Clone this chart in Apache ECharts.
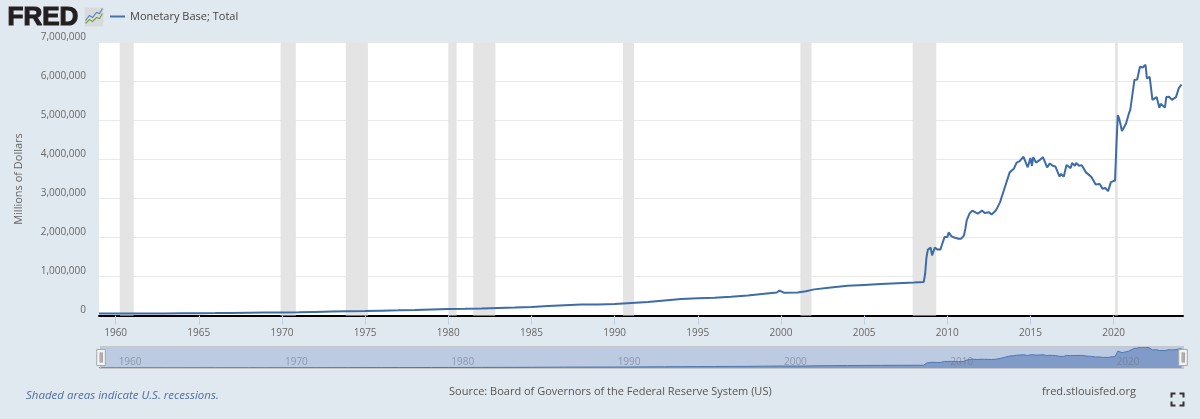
<!DOCTYPE html>
<html><head><meta charset="utf-8">
<style>html,body{margin:0;padding:0;background:#e1e9f0}#c{width:1200px;height:419px}</style>
<script src="https://cdn.jsdelivr.net/npm/echarts@6/dist/echarts.min.js"></script>
</head><body><div id="c"></div>
<script>
var seriesName = 'Monetary Base; Total';
var dates = ['1959-01','1960-01','1961-01','1962-01','1963-01','1964-01','1965-01','1966-01','1967-01','1968-01','1969-01','1970-01','1971-01','1972-01','1973-01','1974-01','1975-01','1976-01','1977-01','1978-01','1979-01','1980-01','1981-01','1982-01','1983-01','1984-01','1985-01','1986-01','1987-01','1988-01','1989-01','1990-01','1991-01','1992-01','1993-01','1994-01','1995-01','1996-01','1997-01','1998-01','1999-01','1999-10','1999-12','2000-01','2000-03','2001-01','2001-07','2002-01','2003-01','2004-01','2005-01','2006-01','2007-01','2008-01','2008-08',
'2008-09','2008-10','2008-11','2009-01','2009-02','2009-04','2009-05','2009-06','2009-08','2009-09','2009-11','2009-12','2010-01','2010-02','2010-04','2010-06','2010-09','2010-11','2011-01','2011-02','2011-03','2011-05','2011-07','2011-09','2011-11','2012-02','2012-04','2012-07','2012-09','2012-12','2013-03','2013-06','2013-10','2014-01','2014-03','2014-05','2014-08','2014-09','2014-11','2015-01','2015-02','2015-03','2015-05','2015-07','2015-10','2016-01','2016-03','2016-05','2016-07','2016-10','2016-11','2017-01','2017-03','2017-06','2017-07','2017-09','2017-10','2017-12','2018-02','2018-05','2018-09','2018-12','2019-03','2019-05','2019-07','2019-09','2019-11','2020-02',
'2020-03','2020-04','2020-05','2020-07','2020-09','2020-10','2020-12','2021-01','2021-04','2021-06','2021-08','2021-09','2021-10','2021-12','2022-01','2022-03','2022-05','2022-08','2022-10','2022-11','2023-02','2023-03','2023-05','2023-07','2023-10','2023-12','2024-02'];
var values = [49000,50000,50000,52000,54000,57000,60000,63000,67000,71000,75000,79000,85000,92000,100000,108000,115000,123000,132000,143000,155000,165000,170000,180000,195000,205000,220000,245000,265000,280000,285000,295000,320000,345000,385000,420000,440000,455000,480000,510000,560000,590000,636000,610000,585000,590000,620000,670000,720000,760000,785000,805000,825000,845000,860000,
1070000,1500000,1690000,1740000,1540000,1740000,1780000,1690000,1690000,1800000,2010000,2040000,2010000,2130000,2030000,2000000,1970000,1970000,2050000,2220000,2440000,2610000,2690000,2650000,2610000,2690000,2630000,2650000,2590000,2690000,2900000,3230000,3670000,3760000,3920000,3950000,4070000,4030000,3800000,4040000,3840000,4060000,3920000,3970000,4060000,3800000,3900000,3840000,3820000,3560000,3630000,3560000,3860000,3780000,3910000,3840000,3910000,3840000,3850000,3670000,3550000,3360000,3370000,3250000,3270000,3190000,3420000,3460000,
4370000,5140000,5050000,4730000,4860000,4930000,5180000,5270000,6040000,6050000,6380000,6400000,6360000,6430000,6080000,6120000,5530000,5600000,5330000,5430000,5330000,5600000,5610000,5530000,5600000,5830000,5920000];
var recessionStart = ['1960-04','1969-12','1973-11','1980-01','1981-07','1990-07','2001-03','2007-12','2020-02'];
var recessionEnd   = ['1961-02','1970-11','1975-03','1980-07','1982-11','1991-03','2001-11','2009-05','2020-04'];
var xTickYears = [1960,1965,1970,1975,1980,1985,1990,1995,2000,2005,2010,2015,2020];
var navTickYears = [1960,1970,1980,1990,2000,2010,2020];

function t(s){ var p = s.split('-'); return +p[0] + (+p[1]-1)/12; }
var points = dates.map(function(d,i){ return [t(d), values[i]]; });
var bands = recessionStart.map(function(s,i){ return [{xAxis:t(s)},{xAxis:t(recessionEnd[i])}]; });
var xMin = 1959, xMax = 2024.17;
var FONT = '"Open Sans", "Noto Sans", sans-serif';

var chart = echarts.init(document.getElementById('c'), null, {renderer:'canvas'});
chart.setOption({
  animation:false,
  backgroundColor:'#e1e9f0',
  textStyle:{fontFamily:FONT},
  legend:{left:105,top:6,data:[seriesName],icon:'rect',itemWidth:15,itemHeight:2,itemGap:5,
    textStyle:{fontFamily:FONT,fontSize:11,color:'#444'},selectedMode:false},
  grid:[
    {left:99,width:1084,top:42.5,height:273,show:true,backgroundColor:'#fff',borderWidth:0},
    {left:99,width:1084,top:347,height:21,show:false}
  ],
  xAxis:[
    {type:'value',gridIndex:0,min:xMin,max:xMax,splitLine:{show:false},
     axisLine:{show:true,onZero:false,lineStyle:{color:'#000',width:2}},
     axisTick:{show:true,length:9,customValues:xTickYears,lineStyle:{color:'#c0d0e0',width:1}},
     axisLabel:{customValues:xTickYears,hideOverlap:false,margin:13,fontSize:10,color:'#666',fontFamily:FONT,
       formatter:function(v){return String(Math.round(v));}}},
    {type:'value',gridIndex:1,min:xMin,max:xMax,z:5,splitLine:{show:false},
     axisLine:{show:false},axisTick:{show:false},
     axisLabel:{inside:true,customValues:navTickYears,hideOverlap:false,margin:1,fontSize:10,align:'left',padding:[0,0,0,3],
       color:'rgba(110,120,135,0.6)',fontFamily:FONT,
       formatter:function(v){return String(Math.round(v));}}}
  ],
  yAxis:[
    {type:'value',gridIndex:0,min:0,max:7000000,interval:1000000,
     name:'Millions of Dollars',nameLocation:'middle',nameGap:75,nameRotate:90,
     nameTextStyle:{fontSize:11,color:'#666',fontFamily:FONT},
     axisLine:{show:false},axisTick:{show:false},
     splitLine:{show:true,lineStyle:{color:'#e9e9e9',width:1}},
     axisLabel:{margin:13,fontSize:10,lineHeight:10,color:'#666',fontFamily:FONT,verticalAlign:'bottom',
       formatter:function(v){return v.toLocaleString('en-US');}}},
    {type:'value',gridIndex:1,min:0,max:6430000,show:false}
  ],
  dataZoom:[{type:'slider',xAxisIndex:0,filterMode:'none',start:0,end:100,left:99,width:1084,top:346,height:23,
    showDetail:false,showDataShadow:false,brushSelect:false,realtime:false,
    backgroundColor:'rgba(0,0,0,0)',fillerColor:'rgba(102,133,194,0.3)',borderColor:'#c4c8cc',
    handleIcon:'path://M0,0H8V15H0Z M3,3V12H3.8V3Z M4.6,3V12H5.4V3Z',handleSize:'70%',
    handleStyle:{color:'#f4f4f4',borderColor:'#a8a8a8',borderWidth:1},
    moveHandleSize:0,emphasis:{handleStyle:{borderColor:'#a8a8a8'}}}],
  series:[
    {name:'Recessions',type:'line',xAxisIndex:0,yAxisIndex:0,data:[],z:1,silent:true,
     markArea:{silent:true,itemStyle:{color:'#e4e4e4'},data:bands}},
    {name:seriesName,type:'line',xAxisIndex:0,yAxisIndex:0,data:points,z:3,showSymbol:false,clip:false,
     lineStyle:{color:'#3d6ca6',width:2},itemStyle:{color:'#4572a7'},silent:true},
    {name:'Navigator',type:'line',xAxisIndex:1,yAxisIndex:1,data:points,z:2,showSymbol:false,
     lineStyle:{color:'#4572a7',width:1},areaStyle:{color:'#6e8dbd',opacity:0.75},silent:true}
  ],
  graphic:[
    {type:'text',left:7,top:4,style:{text:'FRED',fontFamily:'"Liberation Sans",sans-serif',fontWeight:'bold',fontSize:26,fill:'#231f20',stroke:'#231f20',lineWidth:1.2}},
    {type:'group',left:83,top:6,children:[
      {type:'rect',shape:{x:0,y:0,width:19,height:19},style:{fill:'#d8dbdc'}},
      {type:'polyline',shape:{points:[[1,16],[5,12],[8,14],[12,10],[15,11],[18,6]]},style:{stroke:'#7f9f4d',lineWidth:1.2,fill:null}},
      {type:'polyline',shape:{points:[[1,13],[5,8],[8,10],[12,5],[15,6],[18,1]]},style:{stroke:'#5a84b5',lineWidth:1.2,fill:null}}
    ]},
    {type:'text',left:26,top:390,style:{text:'Shaded areas indicate U.S. recessions.',fontFamily:FONT,fontStyle:'italic',fontSize:11.5,fill:'#4f6f9f'}},
    {type:'text',left:449,top:386,style:{text:'Source: Board of Governors of the Federal Reserve System (US)',fontFamily:FONT,fontSize:11,fill:'#555'}},
    {type:'text',left:1042,top:386,style:{text:'fred.stlouisfed.org',fontFamily:FONT,fontSize:11,fill:'#555'}},
    {type:'group',left:1169,top:391,children:[
      {type:'polyline',shape:{points:[[0,4],[0,0],[4,0]]},style:{stroke:'#333',lineWidth:2,fill:null}},
      {type:'polyline',shape:{points:[[8,0],[12,0],[12,4]]},style:{stroke:'#333',lineWidth:2,fill:null}},
      {type:'polyline',shape:{points:[[0,8],[0,12],[4,12]]},style:{stroke:'#333',lineWidth:2,fill:null}},
      {type:'polyline',shape:{points:[[8,12],[12,12],[12,8]]},style:{stroke:'#333',lineWidth:2,fill:null}}
    ]}
  ]
});
</script></body></html>
